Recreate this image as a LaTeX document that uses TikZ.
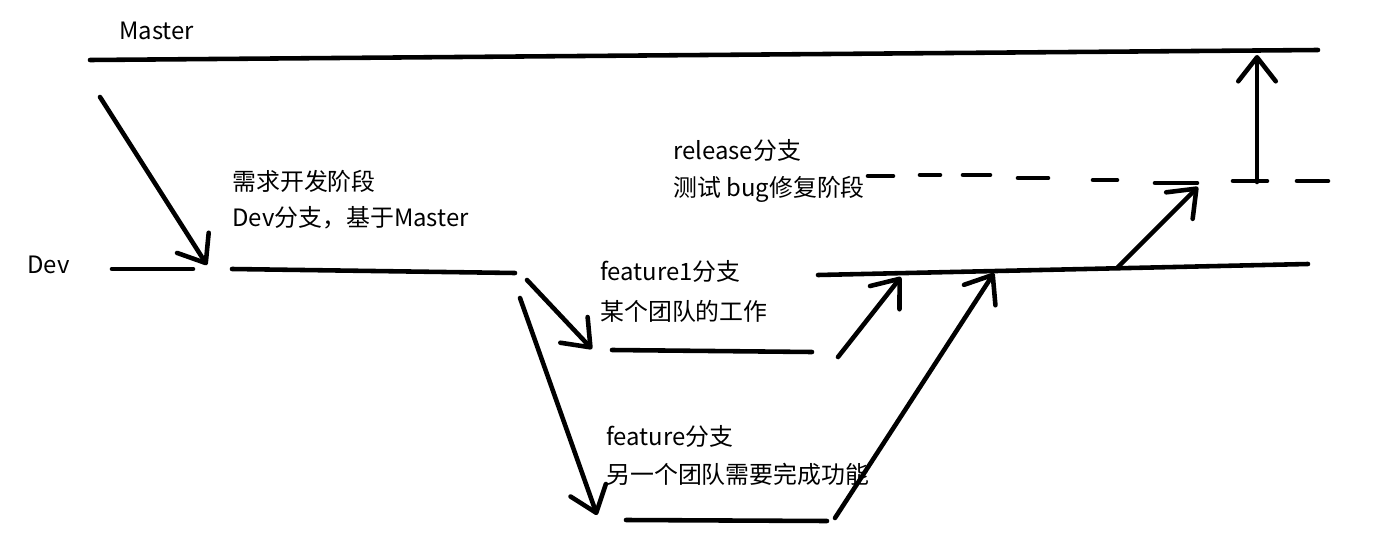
\documentclass[tikz,border=0pt]{standalone}
\usepackage{fontspec}
\setmainfont{Noto Sans CJK SC}
\usetikzlibrary{arrows.meta}

\tikzset{
  branch/.style={line width=2.6pt, line cap=round},
  merge/.style={branch, line join=round,
    -{Straight Barb[length=0.48cm,width=0.75cm,round]}},
  note/.style={anchor=west, inner sep=0pt, font=\fontsize{13.6pt}{16pt}\selectfont},
}

\begin{document}
\begin{tikzpicture}[x=0.02cm,y=-0.02cm]
      \useasboundingbox (0,0) rectangle (1373,541);
      % branch lines
      \coordinate (m0) at (90,60);   \coordinate (m1) at (1318,50);
      \coordinate (d0) at (112,269); \coordinate (d1) at (193,269);
      \coordinate (d2) at (232,269); \coordinate (d3) at (515,273);
      \coordinate (f0) at (612,350); \coordinate (f1) at (812,352);
      \coordinate (g0) at (626,520); \coordinate (g1) at (827,521);
      \coordinate (e0) at (818,275); \coordinate (e1) at (1308,264);
      \draw[branch] (m0) -- (m1);
      \draw[branch] (d0) -- (d1);
      \draw[branch] (d2) -- (d3);
      \draw[branch] (f0) -- (f1);
      \draw[branch] (g0) -- (g1);
      \draw[branch] (e0) -- (e1);
      % release, dashed by hand
      \foreach \a/\b/\y in {868/893/176, 920/940/175, 963/990/175, 1018/1048/178,
                            1093/1117/180, 1155/1197/183, 1233/1267/181, 1297/1328/181}{
        \draw[branch] (\a,\y) -- (\b,\y);
      }
      % merges
      \coordinate (s0) at (100,97);   \coordinate (t0) at (207,265);
      \coordinate (s1) at (527,280);  \coordinate (t1) at (592,349);
      \coordinate (s2) at (520,298);  \coordinate (t2) at (597,515);
      \coordinate (s3) at (838,357);  \coordinate (t3) at (901,277);
      \coordinate (s4) at (835,518);  \coordinate (t4) at (994,273);
      \coordinate (s5) at (1118,267); \coordinate (t5) at (1198,187);
      \coordinate (s6) at (1257,182); \coordinate (t6) at (1257,55);
      \foreach \i in {0,...,6}{
        \draw[merge] (s\i) -- (t\i);
      }
      % texts
      \node[note] (master) at (119,31) {Master};
      \node[note] (dev) at (27,265) {Dev};
      \node[note] (devA) at (232,181) {需求开发阶段};
      \node[note] (devB) at (232,218) {Dev分支，基于Master};
      \node[note] (relA) at (673,150) {release分支};
      \node[note] (relB) at (673,189) {测试 bug修复阶段};
      \node[note] (featA) at (600,271) {feature1分支};
      \node[note] (featB) at (600,311) {某个团队的工作};
      \node[note] (featC) at (606,436) {feature分支};
      \node[note] (featD) at (606,474) {另一个团队需要完成功能};
\end{tikzpicture}
\end{document}
